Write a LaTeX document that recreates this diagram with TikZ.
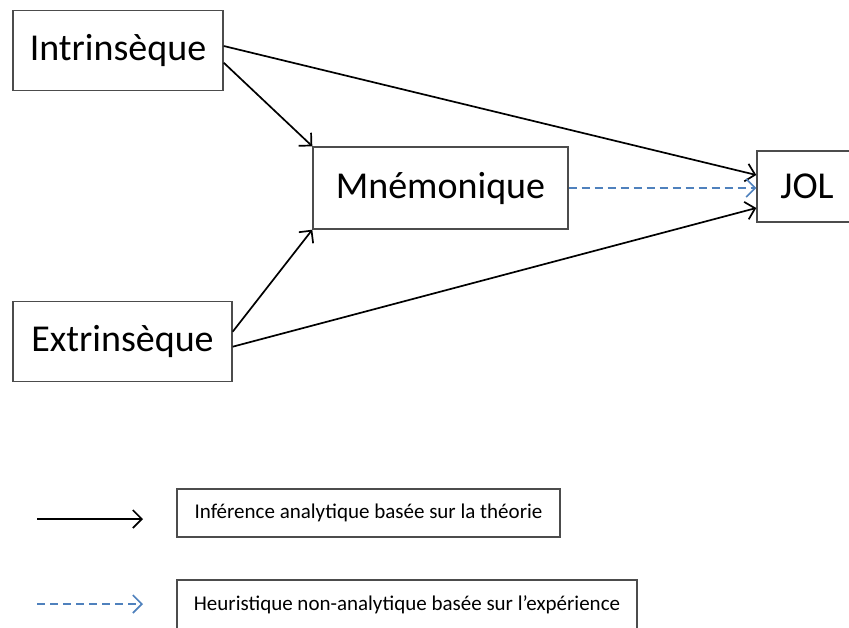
\documentclass[tikz,border=0pt]{standalone}
\usepackage{fontspec}
\setmainfont{Carlito}
\usetikzlibrary{arrows.meta,positioning,calc}
\definecolor{heurblue}{RGB}{79,129,189}

\tikzset{
    factor/.style={draw=black!70, line width=1.4pt, font=\fontsize{38}{44}\selectfont, inner sep=0pt},
    legendbox/.style={draw=black!70, line width=1.4pt, font=\fontsize{21}{25}\selectfont, inner sep=0pt},
    theory/.style={line width=1.7pt, -{Straight Barb[length=9pt,width=18pt,line width=1.7pt]}},
    heuristic/.style={heurblue, line width=1.6pt, dash pattern=on 8pt off 5pt, -{Straight Barb[length=9pt,width=18pt,line width=1.6pt]}}
}

\begin{document}
\begin{tikzpicture}[x=1pt, y=-1pt]
    \useasboundingbox (0,0) rectangle (849,628);

    % Cues
    \node[factor, minimum width=210pt, minimum height=80pt] (intr) at (118,50.7) {Intrinsèque};
    \node[factor, minimum width=219pt, minimum height=80pt] (extr) at (122.5,341.7) {Extrinsèque};
    \node[factor, minimum width=255pt, minimum height=82pt] (mnem) at (440.5,188) {Mnémonique};
    \node[factor, minimum width=100pt, minimum height=71pt] (jol) at (807,186.5) {JOL};

    % Links
    \draw[theory] ([yshift=4.7pt]intr.east) -- ([yshift=11.5pt]jol.west);
    \draw[theory] ([yshift=-12pt]intr.east) -- (mnem.north west);
    \draw[theory] ([yshift=10pt]extr.east) -- (mnem.south west);
    \draw[theory] ([yshift=-5pt]extr.east) -- ([yshift=-21.5pt]jol.west);
    \draw[heuristic] (mnem.east) -- (mnem.east -| jol.west);

    % Legend
    \node[legendbox, minimum width=383pt, minimum height=48pt] (leg1) at (368.5,513) {Inférence analytique basée sur la théorie};
    \node[legendbox, minimum width=460pt, minimum height=49pt] (leg2) at (407,604.5) {Heuristique non-analytique basée sur l’expérience};
    \coordinate (t1) at (37,519);
    \coordinate (t2) at (143,519);
    \coordinate (h1) at (37,604);
    \coordinate (h2) at (143,604);
    \draw[theory] (t1) -- (t2);
    \draw[heuristic] (h1) -- (h2);
\end{tikzpicture}
\end{document}
